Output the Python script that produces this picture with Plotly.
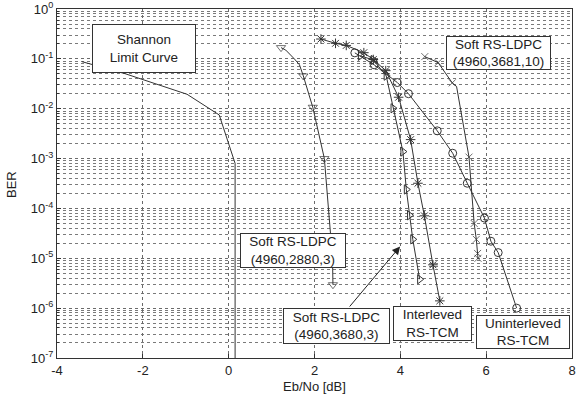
import plotly.graph_objects as go

# ---- data ----
shannon_x = [-3.42, -2.4, -0.97, -0.22, 0.15, 0.15]
shannon_y = [0.088, 0.05, 0.0195, 0.0075, 8e-4, 1e-7]

ldpc2880_x = [1.22, 1.33, 1.53, 1.65, 1.74, 1.96, 2.23, 2.42, 2.43]
ldpc2880_y = [0.168, 0.15, 0.10, 0.076, 0.0454, 0.0107, 1.0e-3, 1.0e-5, 2.95e-6]
ldpc2880_marked = [1, 0, 0, 0, 1, 1, 1, 1, 1]

inter_x = [2.15, 2.49, 2.74, 3.15, 3.37, 3.66, 3.96, 4.24, 4.41, 4.56, 4.76, 4.92]
inter_y = [0.25, 0.205, 0.186, 0.133, 0.097, 0.058, 0.0170, 2.4e-3, 3.2e-4, 7.1e-5, 7.4e-6, 1.4e-6]

ldpc3680_x = [3.07, 3.37, 3.67, 3.83, 4.06, 4.14, 4.215, 4.29, 4.45]
ldpc3680_y = [0.115, 0.095, 0.046, 0.0102, 1.38e-3, 2.4e-4, 7.3e-5, 2.4e-5, 3.8e-6]

uninter_x = [2.94, 3.39, 3.93, 4.19, 4.86, 5.22, 5.56, 5.96, 6.11, 6.28, 6.71]
uninter_y = [0.132, 0.076, 0.0335, 0.020, 3.6e-3, 1.28e-3, 3.2e-4, 6.4e-5, 2.2e-5, 1.3e-5, 1.0e-6]

ldpc3681_x = [4.57, 4.88, 5.21, 5.31, 5.60, 5.72, 5.77, 5.80, 5.81]
ldpc3681_y = [0.111, 0.084, 0.033, 0.028, 1.07e-3, 5.0e-5, 2.4e-5, 1.25e-5, 1.0e-5]
ldpc3681_marked = [1, 1, 1, 0, 1, 1, 1, 1, 1]

x_ticks = [-4, -2, 0, 2, 4, 6, 8]
y_tickvals = [1, 1e-1, 1e-2, 1e-3, 1e-4, 1e-5, 1e-6, 1e-7]
y_ticktext = ["10<sup>0</sup>", "10<sup>-1</sup>", "10<sup>-2</sup>", "10<sup>-3</sup>",
              "10<sup>-4</sup>", "10<sup>-5</sup>", "10<sup>-6</sup>", "10<sup>-7</sup>"]

LINE = "#333333"
FONT = "Liberation Sans, Arial, sans-serif"

fig = go.Figure()

def add_series(x, y, symbol, size=7, marked=None):
    sizes = size if marked is None else [size if m else 0 for m in marked]
    fig.add_trace(go.Scatter(
        x=x, y=y, mode="lines+markers",
        line=dict(color=LINE, width=1),
        marker=dict(symbol=symbol, size=sizes, color=LINE,
                    line=dict(color=LINE, width=1)),
        showlegend=False, hoverinfo="skip"))

fig.add_trace(go.Scatter(x=shannon_x, y=shannon_y, mode="lines",
                         line=dict(color=LINE, width=1), showlegend=False))
add_series(ldpc2880_x, ldpc2880_y, "triangle-down-open", 8, ldpc2880_marked)
add_series(inter_x, inter_y, "asterisk-open", 8)
add_series(ldpc3680_x, ldpc3680_y, "triangle-right-open", 8)
add_series(uninter_x, uninter_y, "circle-open", 8)
add_series(ldpc3681_x, ldpc3681_y, "x-thin-open", 7, ldpc3681_marked)

# text boxes: (text, x, log10 y, width, height)
boxes = [
    ("Shannon<br>Limit Curve", -1.975, -0.796, 102, 47),
    ("Soft RS-LDPC<br>(4960,3681,10)", 6.284, -0.882, 103, 32),
    ("Soft RS-LDPC<br>(4960,2880,3)", 1.490, -4.846, 104, 33),
    ("Soft RS-LDPC<br>(4960,3680,3)", 2.503, -6.357, 105, 34),
    ("Interleved<br>RS-TCM", 4.746, -6.299, 77, 33),
    ("Uninterleved<br>RS-TCM", 6.862, -6.477, 92, 32),
]
annotations = []
for text, bx, by, w, h in boxes:
    annotations.append(dict(
        text=text, x=bx, y=by, xref="x", yref="y", showarrow=False,
        xanchor="center", yanchor="middle", width=w, height=h,
        align="center", valign="middle",
        bgcolor="white", bordercolor="#333333", borderwidth=1, borderpad=0,
        font=dict(family=FONT, size=13.5, color="#222222")))

# arrow from (4960,3680,3) box to its curve
annotations.append(dict(
    x=3.995, y=-4.763, ax=2.790, ay=-5.998, xref="x", yref="y",
    axref="x", ayref="y", text="", showarrow=True,
    arrowhead=2, arrowsize=1.6, arrowwidth=1, arrowcolor="#222222"))

# axis titles
annotations.append(dict(text="Eb/No [dB]", x=(314 - 57) / 515, y=-(386 - 358) / 349,
                        xref="paper", yref="paper", showarrow=False,
                        xanchor="center", yanchor="middle",
                        font=dict(family=FONT, size=13, color="#222222")))
annotations.append(dict(text="BER", x=-(57 - 11) / 515, y=1 - (185 - 9) / 349,
                        xref="paper", yref="paper", showarrow=False, textangle=-90,
                        xanchor="center", yanchor="middle",
                        font=dict(family=FONT, size=13, color="#222222")))

fig.update_layout(
    width=577, height=398,
    margin=dict(l=57, r=5, t=9, b=40),
    paper_bgcolor="white", plot_bgcolor="white",
    font=dict(family=FONT, size=12, color="#222222"),
    annotations=annotations,
    xaxis=dict(
        range=[-4, 8], tickvals=x_ticks, ticktext=[str(v) for v in x_ticks],
        automargin=False,
        showgrid=True, gridcolor="#6a6a6a", griddash="dot", gridwidth=1,
        zeroline=False, showline=True, linecolor="#333333", linewidth=1, mirror=True,
        ticks="inside", ticklen=4, tickcolor="#333333",
        tickfont=dict(size=13)),
    yaxis=dict(
        type="log", range=[-7, 0], tickvals=y_tickvals, ticktext=y_ticktext,
        automargin=False,
        showgrid=True, gridcolor="#6a6a6a", griddash="dot", gridwidth=1,
        zeroline=False, showline=True, linecolor="#333333", linewidth=1, mirror=True,
        ticks="inside", ticklen=4, tickcolor="#333333",
        minor=dict(dtick="D1", showgrid=True, gridcolor="#7a7a7a", griddash="dot",
                   gridwidth=1, ticks="inside", ticklen=2, tickcolor="#333333"),
        tickfont=dict(size=13)),
)

fig.write_html("out.html", config={"displayModeBar": False},
               post_script="document.body.style.margin='0';document.body.style.padding='0';")
